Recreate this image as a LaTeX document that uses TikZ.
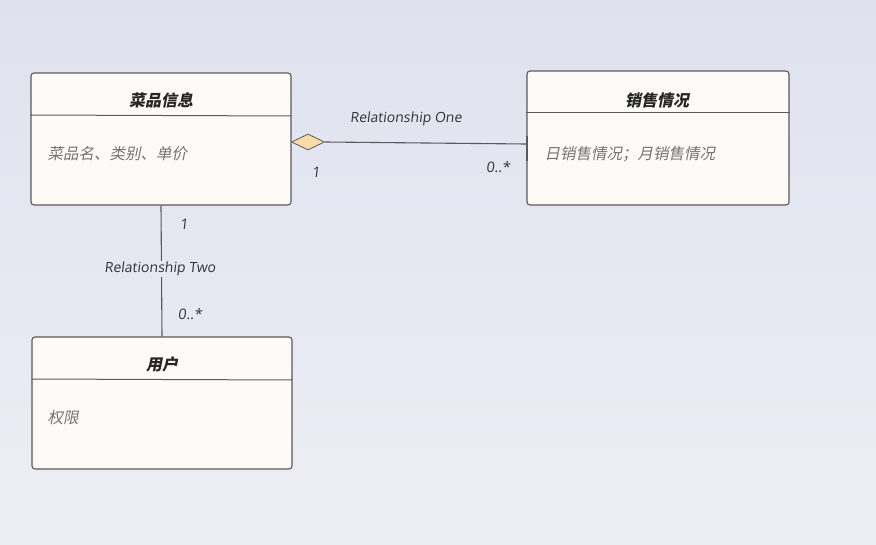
\documentclass[tikz,border=0pt]{standalone}
\usepackage{fontspec}
\usepackage{xcolor}
\usepackage{tikz}
\usetikzlibrary{shapes.geometric,positioning,calc}
\setmainfont{Open Sans}
\newfontfamily\cjkit[FakeSlant=0.2]{Noto Sans CJK SC}
\newfontfamily\latit[FakeSlant=0.12]{Open Sans}
\definecolor{bgtop}{HTML}{DFE2EE}
\definecolor{bgbot}{HTML}{EDEEF5}
\definecolor{boxfill}{HTML}{FDFAF7}
\definecolor{edge}{HTML}{5A5A5A}
\definecolor{diafill}{HTML}{F9DCAA}

\begin{document}
\begin{tikzpicture}[x=1pt, y=-1pt,
  umlclass/.style={draw=edge, fill=boxfill, line width=1.1pt, rectangle, rounded corners=3pt,
    minimum width=260pt, minimum height=132pt, inner sep=0pt},
  ctitle/.style={font=\cjkit\fontsize{16}{18}\selectfont\bfseries, text=black!85},
  cbody/.style={font=\cjkit\fontsize{15.5}{18}\selectfont, text=black!55, anchor=west},
  divider/.style={draw=edge, line width=1pt},
  assoc/.style={draw=edge, line width=1.1pt},
  rlabel/.style={font=\latit\fontsize{14}{16}\selectfont, text=black!80},
  mult/.style={font=\latit\fontsize{14.5}{16}\selectfont, text=black!80},
  agg/.style={diamond, draw=edge, fill=diafill, line width=0.8pt, minimum width=33pt, minimum height=16pt, inner sep=0pt},
  endtick/.style={rectangle, fill=edge, minimum width=2pt, minimum height=25pt, inner sep=0pt}
]
\useasboundingbox (0,0) rectangle (876,545);
\shade[top color=bgtop, bottom color=bgbot] (0,0) rectangle (876,545);

% classes
\node[umlclass] (dish) at (161,139) {};
\node[umlclass, minimum width=262pt, minimum height=134pt] (sales) at (658,138) {};
\node[umlclass] (user) at (162,403) {};

\draw[divider] (dish.west |- 0,115) -- (dish.east |- 0,116);
\draw[divider] (sales.west |- 0,113) -- (sales.east |- 0,113);
\draw[divider] (user.west |- 0,379) -- (user.east |- 0,380);

\node[ctitle] (dishtitle) at (161,100) {菜品信息};
\node[cbody] (dishbody) at (44,154) {菜品名、类别、单价};
\node[ctitle] (salestitle) at (657,100) {销售情况};
\node[cbody] (salesbody) at (541,154) {日销售情况；月销售情况};
\node[ctitle] (usertitle) at (162,364) {用户};
\node[cbody] (userbody) at (44,418) {权限};

% relationship one
\node[agg] (dia) at (308,142) {};
\node[endtick] (tick) at (527,149) {};
\draw[assoc] (dia.east) -- (tick.west |- 0,144);
\node[rlabel] (r1) at (406,119) {Relationship One};
\node[mult] (m1a) at (316,172) {1};
\node[mult] (m1b) at (498,167) {0..*};

% relationship two
\draw[assoc] (dish.south) -- (user.north);
\node[rlabel, fill=bgtop!60!bgbot, inner sep=1pt] (r2) at (160,269) {Relationship Two};
\node[mult] (m2a) at (184,224) {1};
\node[mult] (m2b) at (190,314) {0..*};
\end{tikzpicture}
\end{document}
